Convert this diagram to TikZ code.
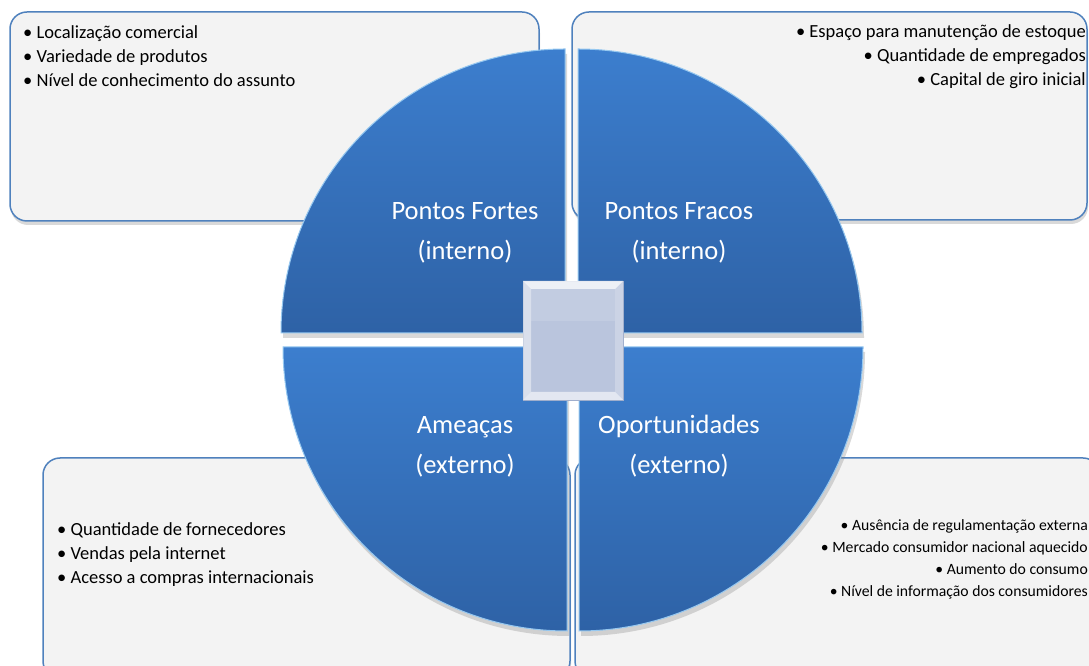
\documentclass[tikz,border=0pt]{standalone}
\usepackage{fontspec}
\setmainfont{Carlito}
\usetikzlibrary{shadows}
\definecolor{boxline}{RGB}{79,129,189}
\definecolor{boxfill}{RGB}{243,243,243}
\definecolor{qtop}{RGB}{60,126,206}
\definecolor{qbot}{RGB}{46,98,166}
\definecolor{qrim}{RGB}{150,200,240}
\definecolor{sqfill}{RGB}{186,197,221}
\definecolor{sqline}{RGB}{160,174,204}
\tikzset{
  listbox/.style={draw=boxline, line width=1.5pt, fill=boxfill, rounded corners=17pt,
    drop shadow={opacity=0.3, shadow xshift=1pt, shadow yshift=-4pt}},
  quad/.style={top color=qtop, bottom color=qbot, draw=qrim, line width=1pt,
    drop shadow={opacity=0.3, shadow xshift=2pt, shadow yshift=-5pt}},
  itemL/.style={anchor=base west, inner sep=0pt, font=\fontsize{18.5}{22}\selectfont},
  itemR/.style={anchor=base east, inner sep=0pt, font=\fontsize{18.5}{22}\selectfont},
  itemS/.style={anchor=base east, inner sep=0pt, font=\fontsize{15.7}{19}\selectfont},
  qlabel/.style={anchor=base, inner sep=0pt, text=white, font=\fontsize{26.5}{30}\selectfont}
}
\begin{document}
\begin{tikzpicture}[x=1pt, y=1pt]
\useasboundingbox (0,0) rectangle (1089,666);
\clip (0,0) rectangle (1089,666);
% text boxes
\path[listbox] (10,654) rectangle (539,445);
\path[listbox] (572,654) rectangle (1087,446);
\path[listbox] (43,208) rectangle (570,-12);
\path[listbox] (575,208) rectangle (1100,-12);
% quadrants
\path[quad] (565,333) -- (281,333) arc[start angle=180, end angle=90, radius=284pt] -- cycle;
\path[quad] (578,333) -- (578,617) arc[start angle=90, end angle=0, radius=284pt] -- cycle;
\path[quad] (567,319) -- (283,319) arc[start angle=180, end angle=270, radius=284pt] -- cycle;
\path[quad] (579,319) -- (863,319) arc[start angle=0, end angle=-90, radius=284pt] -- cycle;
% centre bevelled square
\fill[sqfill, draw=sqline, line width=0.8pt] (523,266) rectangle (623,385);
\fill[white, opacity=0.75] (523,385) -- (623,385) -- (615,377) -- (531,377) -- cycle;
\fill[white, opacity=0.45] (523,385) -- (531,377) -- (531,274) -- (523,266) -- cycle;
\fill[white, opacity=0.25] (623,385) -- (615,377) -- (615,274) -- (623,266) -- cycle;
\fill[white, opacity=0.6] (523,266) -- (531,274) -- (615,274) -- (623,266) -- cycle;
\fill[white, opacity=0.12] (531,377) rectangle (615,345);
% list texts
\node[itemL] (s1) at (23,627) {• Localização comercial};
\node[itemL] (s2) at (23,603) {• Variedade de produtos};
\node[itemL] (s3) at (23,579) {• Nível de conhecimento do assunto};
\node[itemR] (w1) at (1086,628) {• Espaço para manutenção de estoque};
\node[itemR] (w2) at (1086,604) {• Quantidade de empregados};
\node[itemR] (w3) at (1086,580) {• Capital de giro inicial};
\node[itemL] (t1) at (57,130) {• Quantidade de fornecedores};
\node[itemL] (t2) at (57,106) {• Vendas pela internet};
\node[itemL] (t3) at (57,82) {• Acesso a compras internacionais};
\node[itemS] (o1) at (1088,135) {• Ausência de regulamentação externa};
\node[itemS] (o2) at (1088,113) {• Mercado consumidor nacional aquecido};
\node[itemS] (o3) at (1088,91) {• Aumento do consumo};
\node[itemS] (o4) at (1088,69) {• Nível de informação dos consumidores};
% quadrant labels
\node[qlabel] (pf1) at (465,446) {Pontos Fortes};
\node[qlabel] (pf2) at (465,406) {(interno)};
\node[qlabel] (pw1) at (679,446) {Pontos Fracos};
\node[qlabel] (pw2) at (679,406) {(interno)};
\node[qlabel] (am1) at (465,232) {Ameaças};
\node[qlabel] (am2) at (465,192) {(externo)};
\node[qlabel] (op1) at (679,232) {Oportunidades};
\node[qlabel] (op2) at (679,192) {(externo)};
\end{tikzpicture}
\end{document}
